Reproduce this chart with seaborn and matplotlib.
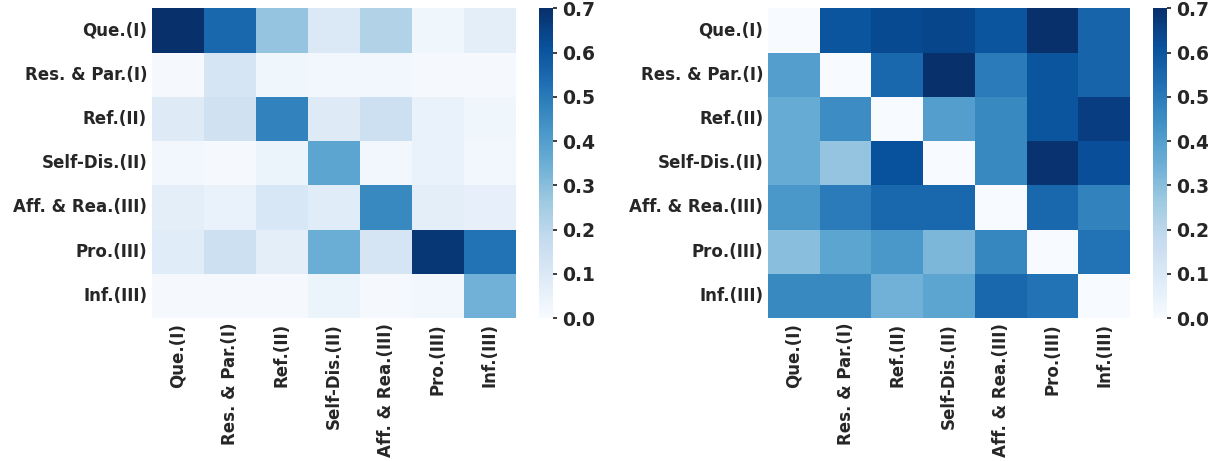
import numpy as np
import matplotlib
matplotlib.use("Agg")
import matplotlib.pyplot as plt
import seaborn as sns

LABELS = ["Que.(I)", "Res. & Par.(I)", "Ref.(II)", "Self-Dis.(II)",
          "Aff. & Rea.(III)", "Pro.(III)", "Inf.(III)"]

# left heatmap
LEFT = [
    [0.70, 0.55, 0.28, 0.10, 0.22, 0.03, 0.07],
    [0.01, 0.12, 0.03, 0.02, 0.02, 0.01, 0.01],
    [0.09, 0.14, 0.48, 0.09, 0.15, 0.05, 0.03],
    [0.02, 0.01, 0.04, 0.38, 0.02, 0.05, 0.02],
    [0.07, 0.05, 0.11, 0.08, 0.46, 0.07, 0.06],
    [0.08, 0.15, 0.07, 0.35, 0.12, 0.68, 0.52],
    [0.01, 0.01, 0.01, 0.04, 0.01, 0.02, 0.34],
]

# right heatmap
RIGHT = [
    [0.00, 0.60, 0.63, 0.64, 0.60, 0.70, 0.56],
    [0.40, 0.00, 0.55, 0.70, 0.50, 0.60, 0.56],
    [0.36, 0.45, 0.00, 0.40, 0.46, 0.60, 0.66],
    [0.36, 0.28, 0.61, 0.00, 0.46, 0.69, 0.62],
    [0.42, 0.50, 0.55, 0.55, 0.00, 0.55, 0.48],
    [0.30, 0.38, 0.42, 0.32, 0.47, 0.00, 0.52],
    [0.46, 0.46, 0.34, 0.38, 0.55, 0.52, 0.00],
]

sns.set_theme(style="white")
plt.rcParams["font.family"] = ["DejaVu Sans"]
plt.rcParams["font.weight"] = "bold"

fig = plt.figure(figsize=(12.08, 4.61), dpi=100)
ax1 = fig.add_axes([0.1258, 0.310, 0.3013, 0.672])
cb1 = fig.add_axes([0.446, 0.310, 0.0116, 0.672])
ax2 = fig.add_axes([0.6358, 0.310, 0.2997, 0.672])
cb2 = fig.add_axes([0.9545, 0.310, 0.0116, 0.672])

for ax, cax, data in [(ax1, cb1, LEFT), (ax2, cb2, RIGHT)]:
    sns.heatmap(np.array(data), ax=ax, cbar_ax=cax, cmap="Blues", vmin=0, vmax=0.7,
                xticklabels=LABELS, yticklabels=LABELS)
    ax.tick_params(axis="both", length=0, labelsize=12)
    for t in ax.get_xticklabels():
        t.set_rotation(90)
        t.set_fontweight("bold")
    for t in ax.get_yticklabels():
        t.set_rotation(0)
        t.set_fontweight("bold")
    cax.tick_params(labelsize=13.5, length=3)
    cax.set_yticks([0.0, 0.1, 0.2, 0.3, 0.4, 0.5, 0.6, 0.7])
    for t in cax.get_yticklabels():
        t.set_fontweight("bold")

fig.savefig("out.png", dpi=100)
